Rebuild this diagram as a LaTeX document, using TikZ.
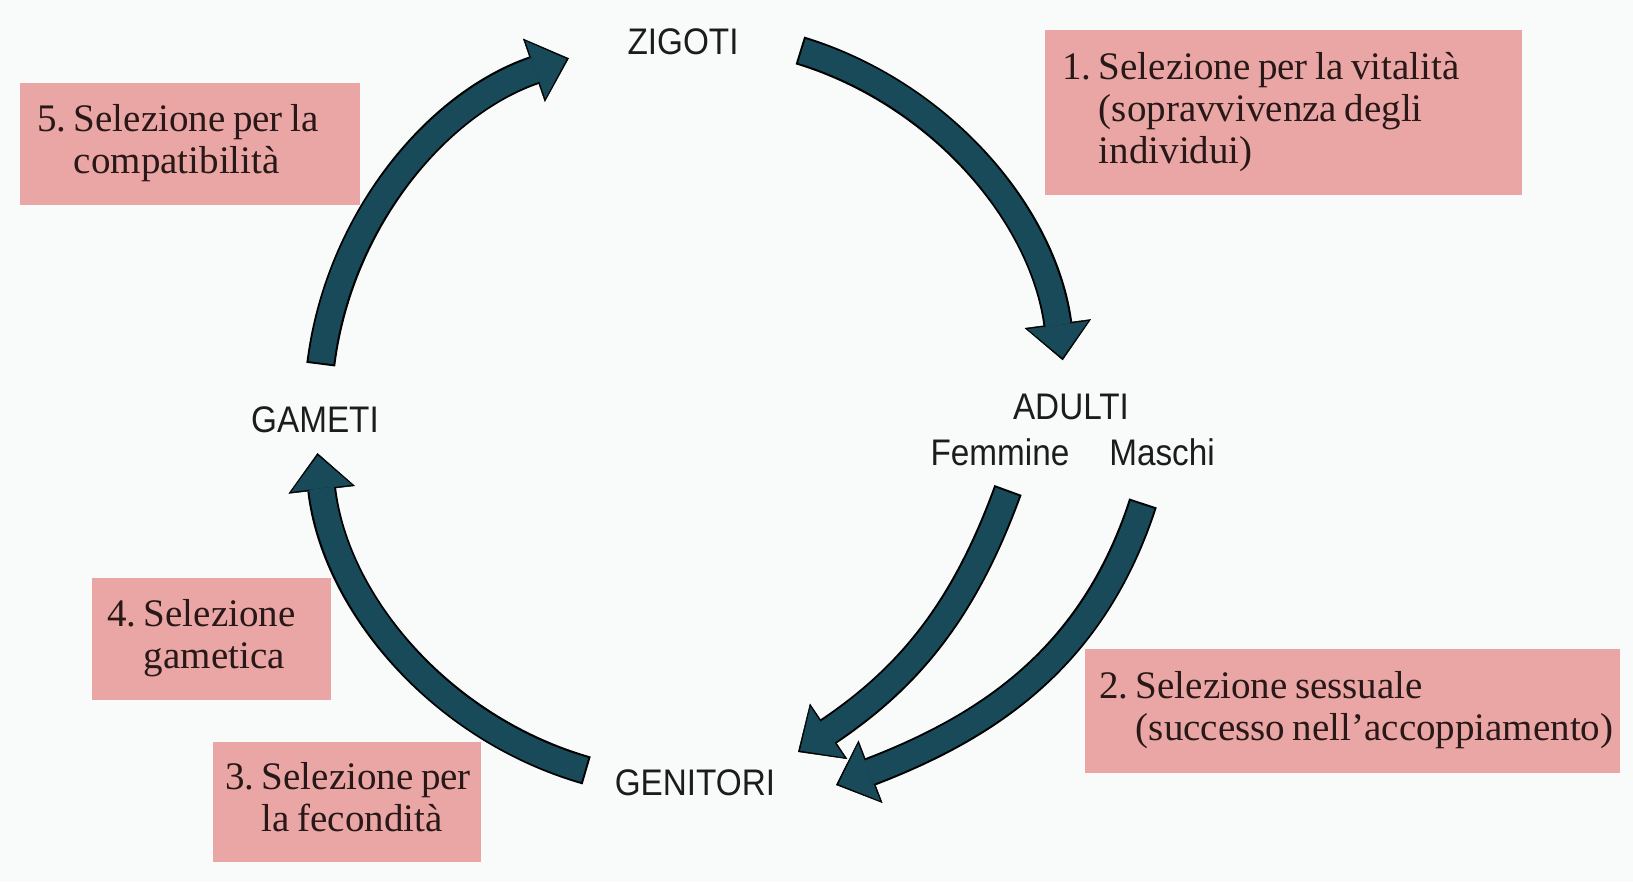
\documentclass[tikz,border=0pt]{standalone}
\usepackage{fontspec}
\setmainfont{Liberation Serif}
\newfontfamily\labfont[FakeStretch=0.9]{Liberation Sans}
\usetikzlibrary{arrows.meta,calc}
\definecolor{bgcol}{RGB}{249,251,251}
\definecolor{boxpink}{RGB}{233,166,165}
\definecolor{boxtext}{RGB}{40,24,24}
\definecolor{arrteal}{RGB}{24,74,90}
\definecolor{labcol}{RGB}{28,28,28}
\newcommand\cycarrow[1]{\draw[arrout] #1; \draw[arrin] #1;}
\newcommand\seltext[2]{\noindent\spaceskip=7.5bp\relax\xspaceskip=7.5bp\relax
  \begin{tabular}{@{}l@{\ }l@{}}#1&#2\end{tabular}}
\begin{document}
\begin{tikzpicture}[x=1bp,y=1bp,
  lab/.style={font=\labfont\fontsize{37bp}{40bp}\selectfont, text=labcol, inner sep=0pt, anchor=base},
  selbox/.style={fill=boxpink, text=boxtext, anchor=north west, inner ysep=0pt,
    font=\fontsize{39bp}{42bp}\selectfont, align=left},
  arrout/.style={draw=black, line width=29bp, -{Triangle[length=37bp,width=67bp,line width=0.5bp]}},
  arrin/.style={draw=arrteal, line width=25bp, shorten <=2bp, shorten >=2.5bp,
    -{Triangle[length=33bp,width=61bp,line width=0.5bp]}},
]
\fill[bgcol] (0,0) rectangle (1633,882);
\useasboundingbox (0,0) rectangle (1633,882);

% labels
\node[lab] (zig) at (683,827) {ZIGOTI};
\node[lab] (adu) at (1071,462) {ADULTI};
\node[lab] (fem) at (1000,416) {Femmine};
\node[lab] (mas) at (1162,416) {Maschi};
\node[lab] (gam) at (315,449) {GAMETI};
\node[lab] (gen) at (695,86) {GENITORI};

% selection boxes
\node[selbox, inner xsep=17bp, text width=443bp, minimum height=165bp] (s1) at (1045,852)
  {\seltext{1.}{Selezione per la vitalità\\&(sopravvivenza degli\\&individui)}};
\node[selbox, inner xsep=14bp, text width=507bp, minimum height=124bp] (s2) at (1085,233)
  {\seltext{2.}{Selezione sessuale\\&(successo nell’accoppiamento)}};
\node[selbox, inner xsep=12bp, text width=244bp, minimum height=120bp] (s3) at (213,140)
  {\seltext{3.}{Selezione per\\&la fecondità}};
\node[selbox, inner xsep=15bp, text width=209bp, minimum height=122bp] (s4) at (92,304)
  {\seltext{4.}{Selezione\\&gametica}};
\node[selbox, inner xsep=17bp, text width=306bp, minimum height=122bp] (s5) at (20,799)
  {\seltext{5.}{Selezione per la\\&compatibilità}};

% arrows
\coordinate (C) at (690,472);
\coordinate (aS) at ($(C)+(73:376)$);
\coordinate (eS) at ($(C)+(173:372)$);
\coordinate (dS) at ($(C)+(254:375)$);
\coordinate (fS) at (1008,392);
\coordinate (fT) at (798,130);
\coordinate (mS) at (1143,379);
\coordinate (mT) at (836,97);

\cycarrow{(aS) arc[start angle=73, end angle=7.6, radius=376]}
\cycarrow{(dS) arc[start angle=254, end angle=186.6, radius=375]}
\cycarrow{(eS) arc[start angle=173, end angle=109, radius=372]}
\cycarrow{(fS) to[out=250,in=34] (fT)}
\cycarrow{(mS) to[out=252,in=21] (mT)}
\end{tikzpicture}
\end{document}
